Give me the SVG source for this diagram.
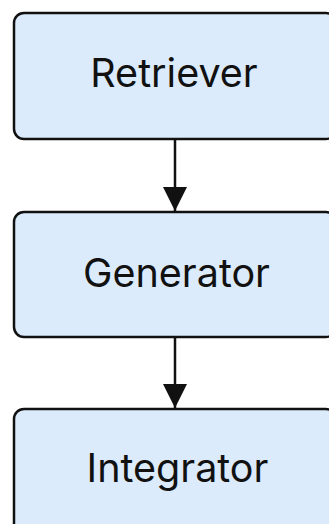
<svg xmlns="http://www.w3.org/2000/svg" width="329" height="524" viewBox="0 0 329 524">
  <style>
    .box { fill: #dbebfb; stroke: #111; stroke-width: 2.5; }
    .label { font-family: Inter, "Liberation Sans", sans-serif; font-size: 39.5px; fill: #111; text-anchor: middle; }
    .edge { stroke: #111; stroke-width: 2.5; fill: none; }
  </style>
  <defs>
    <marker id="arrow" markerUnits="userSpaceOnUse" markerWidth="26" markerHeight="26" refX="24" refY="12" orient="auto">
      <path d="M0,0 L24,12 L0,24 Z" fill="#111"/>
    </marker>
  </defs>
  <rect width="329" height="524" fill="#ffffff"/>
  <g id="retriever">
    <rect class="box" x="14" y="13" width="322" height="126" rx="10"/>
    <text class="label" x="174" y="87">Retriever</text>
  </g>
  <g id="generator">
    <rect class="box" x="14" y="212" width="322" height="125" rx="10"/>
    <text class="label" x="176.5" y="287">Generator</text>
  </g>
  <g id="integrator">
    <rect class="box" x="14" y="409" width="322" height="126" rx="10"/>
    <text class="label" x="177.5" y="482">Integrator</text>
  </g>
  <g id="connectors">
    <line class="edge" x1="175" y1="139" x2="175" y2="211" marker-end="url(#arrow)"/>
    <line class="edge" x1="175" y1="337" x2="175" y2="408" marker-end="url(#arrow)"/>
  </g>
</svg>
